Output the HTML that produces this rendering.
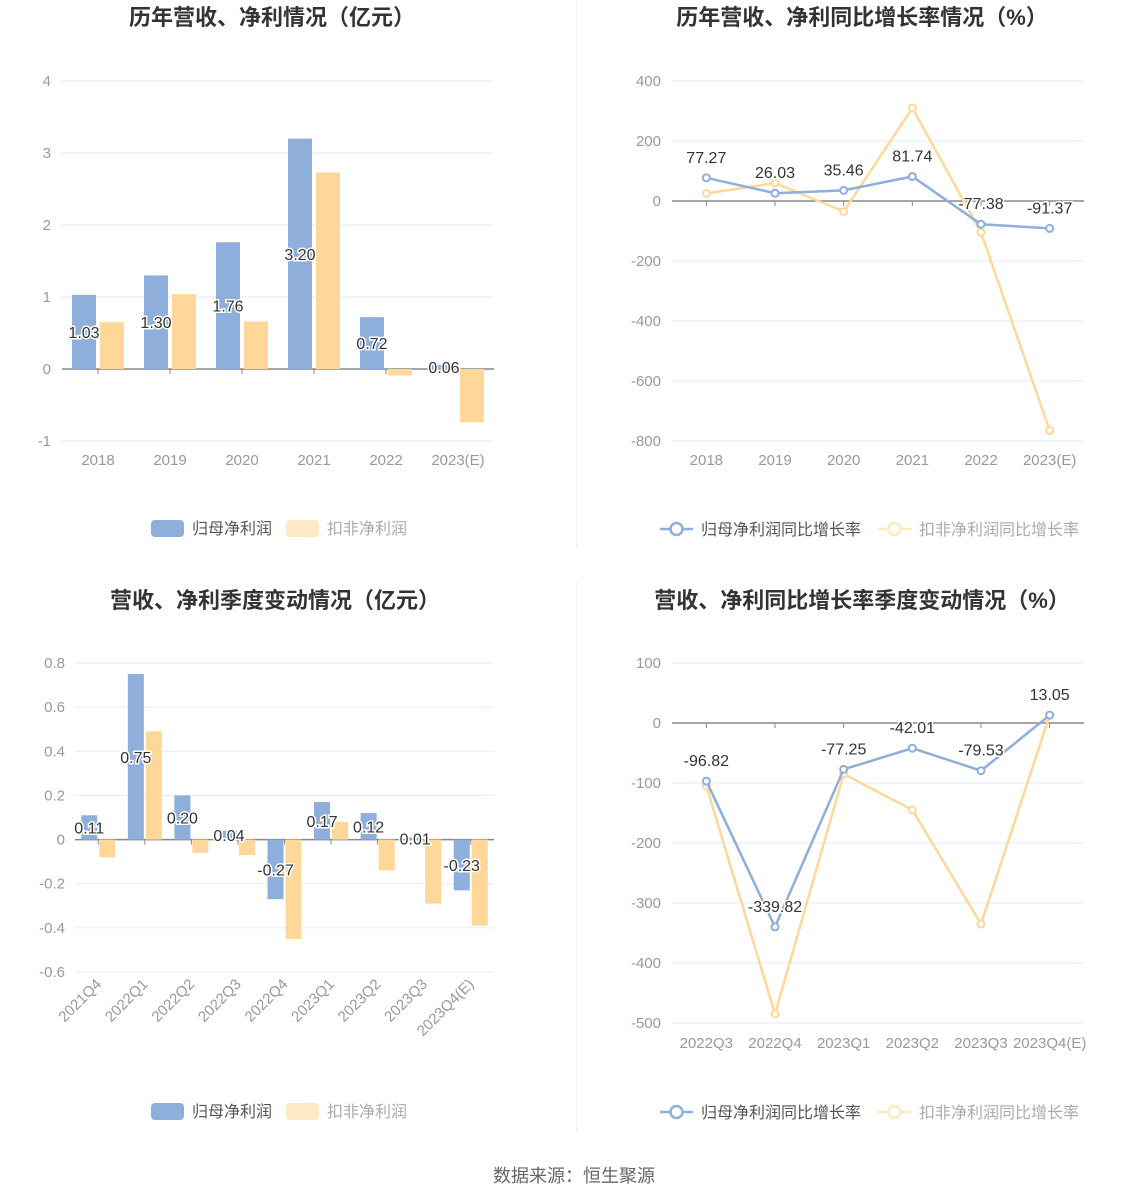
<!DOCTYPE html>
<html><head><meta charset="utf-8">
<style>
html,body{margin:0;padding:0;background:#fff;}
svg{display:block;font-family:"Liberation Sans","Noto Sans CJK SC",sans-serif;}
</style></head>
<body>
<svg id="s" width="1148" height="1202" viewBox="0 0 1148 1202" xmlns="http://www.w3.org/2000/svg">
<line x1="576.5" y1="0" x2="576.5" y2="548" stroke="#eeeeee"/>
<line x1="576.5" y1="582" x2="576.5" y2="1132" stroke="#eeeeee"/>
<text x="272" y="25" text-anchor="middle" font-size="22" font-weight="bold" fill="#333">历年营收、净利情况（亿元）</text>
<text x="862" y="25" text-anchor="middle" font-size="22" font-weight="bold" fill="#333">历年营收、净利同比增长率情况（%）</text>
<text x="275" y="608" text-anchor="middle" font-size="22" font-weight="bold" fill="#333">营收、净利季度变动情况（亿元）</text>
<text x="862" y="608" text-anchor="middle" font-size="22" font-weight="bold" fill="#333">营收、净利同比增长率季度变动情况（%）</text>
<text x="574" y="1182" text-anchor="middle" font-size="18" fill="#666">数据来源：恒生聚源</text>
</svg>
<script>
const years = ["2018","2019","2020","2021","2022","2023(E)"];
const annualNet = [1.03,1.30,1.76,3.20,0.72,0.06];
const annualDeducted = [0.65,1.04,0.66,2.73,-0.09,-0.74];
const annualTicks = [4,3,2,1,0,-1];
const annualNetGrowth = [77.27,26.03,35.46,81.74,-77.38,-91.37];
const annualDedGrowth = [25,60,-35,310,-105,-765];
const growthTicks = [400,200,0,-200,-400,-600,-800];
const quarters = ["2021Q4","2022Q1","2022Q2","2022Q3","2022Q4","2023Q1","2023Q2","2023Q3","2023Q4(E)"];
const quarterNet = [0.11,0.75,0.20,0.04,-0.27,0.17,0.12,0.01,-0.23];
const quarterDeducted = [-0.08,0.49,-0.06,-0.07,-0.45,0.08,-0.14,-0.29,-0.39];
const quarterTicks = [0.8,0.6,0.4,0.2,0,-0.2,-0.4,-0.6];
const qGrowthCats = ["2022Q3","2022Q4","2023Q1","2023Q2","2023Q3","2023Q4(E)"];
const qNetGrowth = [-96.82,-339.82,-77.25,-42.01,-79.53,13.05];
const qDedGrowth = [-105,-485,-85,-145,-335,13];
const qGrowthTicks = [100,0,-100,-200,-300,-400,-500];

const svg=document.getElementById('s');
const NS="http://www.w3.org/2000/svg";
const BLUE="#8eaedb", ORANGE="#ffd899", LBLUE="#8eaedb", LORANGE="#ffd899";
function mk(tag,attrs,parent){const e=document.createElementNS(NS,tag);for(const k in attrs)e.setAttribute(k,attrs[k]);(parent||svg).appendChild(e);return e;}
function txt(x,y,s,attrs,parent){const e=mk('text',Object.assign({x:x,y:y},attrs),parent);e.textContent=s;return e;}

function axes(g,x0,x1,yScale,ticks,fmt,n,cats,rot,yLabX){
  ticks.forEach(t=>{
    const y=yScale(t);
    if(t!==0){const l=mk('line',{x1:x0,x2:x1,y1:y,y2:y,stroke:"#e6ebf5"},g);
      
      }
    const tl=txt(yLabX,y+5,fmt(t),{'text-anchor':'end','font-size':15,fill:'#999'},g);
    
    
  });
  const y0=yScale(0);
  const ax=mk('line',{x1:x0,x2:x1,y1:y0,y2:y0,stroke:"#888",'stroke-width':1.5},g);
  
  
  const bw=(x1-x0)/n;
  for(let i=0;i<n;i++){
    const tk=mk('line',{x1:x0+bw*(i+0.5),x2:x0+bw*(i+0.5),y1:y0,y2:y0+5,stroke:"#888"},g);
    
    
  }
  return bw;
}

function barChart(name,cats,a,b,ticks,x0,x1,yTop,yBot,vTop,vBot,bwid,off,yLabX,rot,labY){
  const g=mk('g',{});
  
  
  const ys=v=>yTop+(vTop-v)*(yBot-yTop)/(vTop-vBot);
  const fmt=t=>String(t);
  const cw=axes(g,x0,x1,ys,ticks,fmt,cats.length,cats,rot,yLabX);
  cats.forEach((c,i)=>{
    const cx=x0+cw*(i+0.5);
    const y0=ys(0);
    const ya=ys(a[i]), yb=ys(b[i]);
    const r1=mk('rect',{x:cx-off-bwid/2,y:Math.min(ya,y0),width:bwid,height:Math.abs(ya-y0),fill:BLUE},g);
    
    
    const r2=mk('rect',{x:cx+off-bwid/2,y:Math.min(yb,y0),width:bwid,height:Math.abs(yb-y0),fill:ORANGE},g);
    
    
    const ly=(ya+y0)/2+6;
    const lb=txt(cx-off,ly,a[i].toFixed(2),{'text-anchor':'middle','font-size':16,fill:'#333',stroke:'#fff','stroke-width':3,'paint-order':'stroke'},g);
    
    
    let xl;
    if(rot){xl=txt(cx+4,labY,c,{'text-anchor':'end','font-size':15,fill:'#999',transform:'rotate(-45 '+(cx+4)+' '+labY+')'},g);}
    else{xl=txt(cx,labY,c,{'text-anchor':'middle','font-size':15,fill:'#999'},g);}
    
    
  });
}

function lineChart(name,cats,a,b,ticks,x0,x1,yTop,yBot,vTop,vBot,yLabX,labY){
  const g=mk('g',{});
  
  
  const ys=v=>yTop+(vTop-v)*(yBot-yTop)/(vTop-vBot);
  const cw=axes(g,x0,x1,ys,ticks,t=>String(t),cats.length,cats,false,yLabX);
  const xs=i=>x0+cw*(i+0.5);
  [[b,LORANGE,'deducted'],[a,LBLUE,'net']].forEach(([arr,col,nm])=>{
    const p=mk('polyline',{points:arr.map((v,i)=>xs(i)+','+ys(v)).join(' '),fill:'none',stroke:col,'stroke-width':2.5},g);
    
    
    arr.forEach((v,i)=>{
      const c=mk('circle',{cx:xs(i),cy:ys(v),r:3.5,fill:'#fff',stroke:col,'stroke-width':2},g);
      
      
    });
  });
  a.forEach((v,i)=>{
    const t=txt(xs(i),ys(v)-15,v.toFixed(2),{'text-anchor':'middle','font-size':16,fill:'#333',stroke:'#fff','stroke-width':3,'paint-order':'stroke'},g);
    
    
  });
  cats.forEach((c,i)=>{
    const t=txt(xs(i),labY,c,{'text-anchor':'middle','font-size':15,fill:'#999'},g);
    
    
  });
}

barChart('annual-profit-chart',years,annualNet,annualDeducted,annualTicks,62,494,81,441,4,-1,24,14,51,false,465);
lineChart('annual-growth-chart',years,annualNetGrowth,annualDedGrowth,growthTicks,672,1084,81,441,400,-800,661,465);
barChart('quarter-profit-chart',quarters,quarterNet,quarterDeducted,quarterTicks,75,494,663,972,0.8,-0.6,16,9,65,true,985);
lineChart('quarter-growth-chart',qGrowthCats,qNetGrowth,qDedGrowth,qGrowthTicks,672,1084,663,1023,100,-500,661,1048);

function legend(y,x,kind,items){
  items.forEach((it,k)=>{
    const g=mk('g',{});
    
    
    const bx=it.x;
    if(kind==='bar'){mk('rect',{x:bx,y:y-8,width:33,height:17,rx:4,fill:it.col},g);}
    else{mk('line',{x1:bx,x2:bx+33,y1:y,y2:y,stroke:it.col,'stroke-width':2.5},g);
         mk('circle',{cx:bx+16.5,cy:y,r:6,fill:'#fff',stroke:it.col,'stroke-width':2.5},g);}
    txt(bx+41,y+6,it.t,{'font-size':16,fill:it.tc},g);
  });
}
legend(528,0,'bar',[{x:151,col:'#8eaedb',t:'归母净利润',tc:'#555'},{x:286,col:'#ffe8c4',t:'扣非净利润',tc:'#aaa'}]);
legend(529,0,'line',[{x:660,col:'#8eaedb',t:'归母净利润同比增长率',tc:'#555'},{x:878,col:'#ffe8c4',t:'扣非净利润同比增长率',tc:'#aaa'}]);
legend(1111,0,'bar',[{x:151,col:'#8eaedb',t:'归母净利润',tc:'#555'},{x:286,col:'#ffe8c4',t:'扣非净利润',tc:'#aaa'}]);
legend(1112,0,'line',[{x:660,col:'#8eaedb',t:'归母净利润同比增长率',tc:'#555'},{x:878,col:'#ffe8c4',t:'扣非净利润同比增长率',tc:'#aaa'}]);
</script>
</body></html>
